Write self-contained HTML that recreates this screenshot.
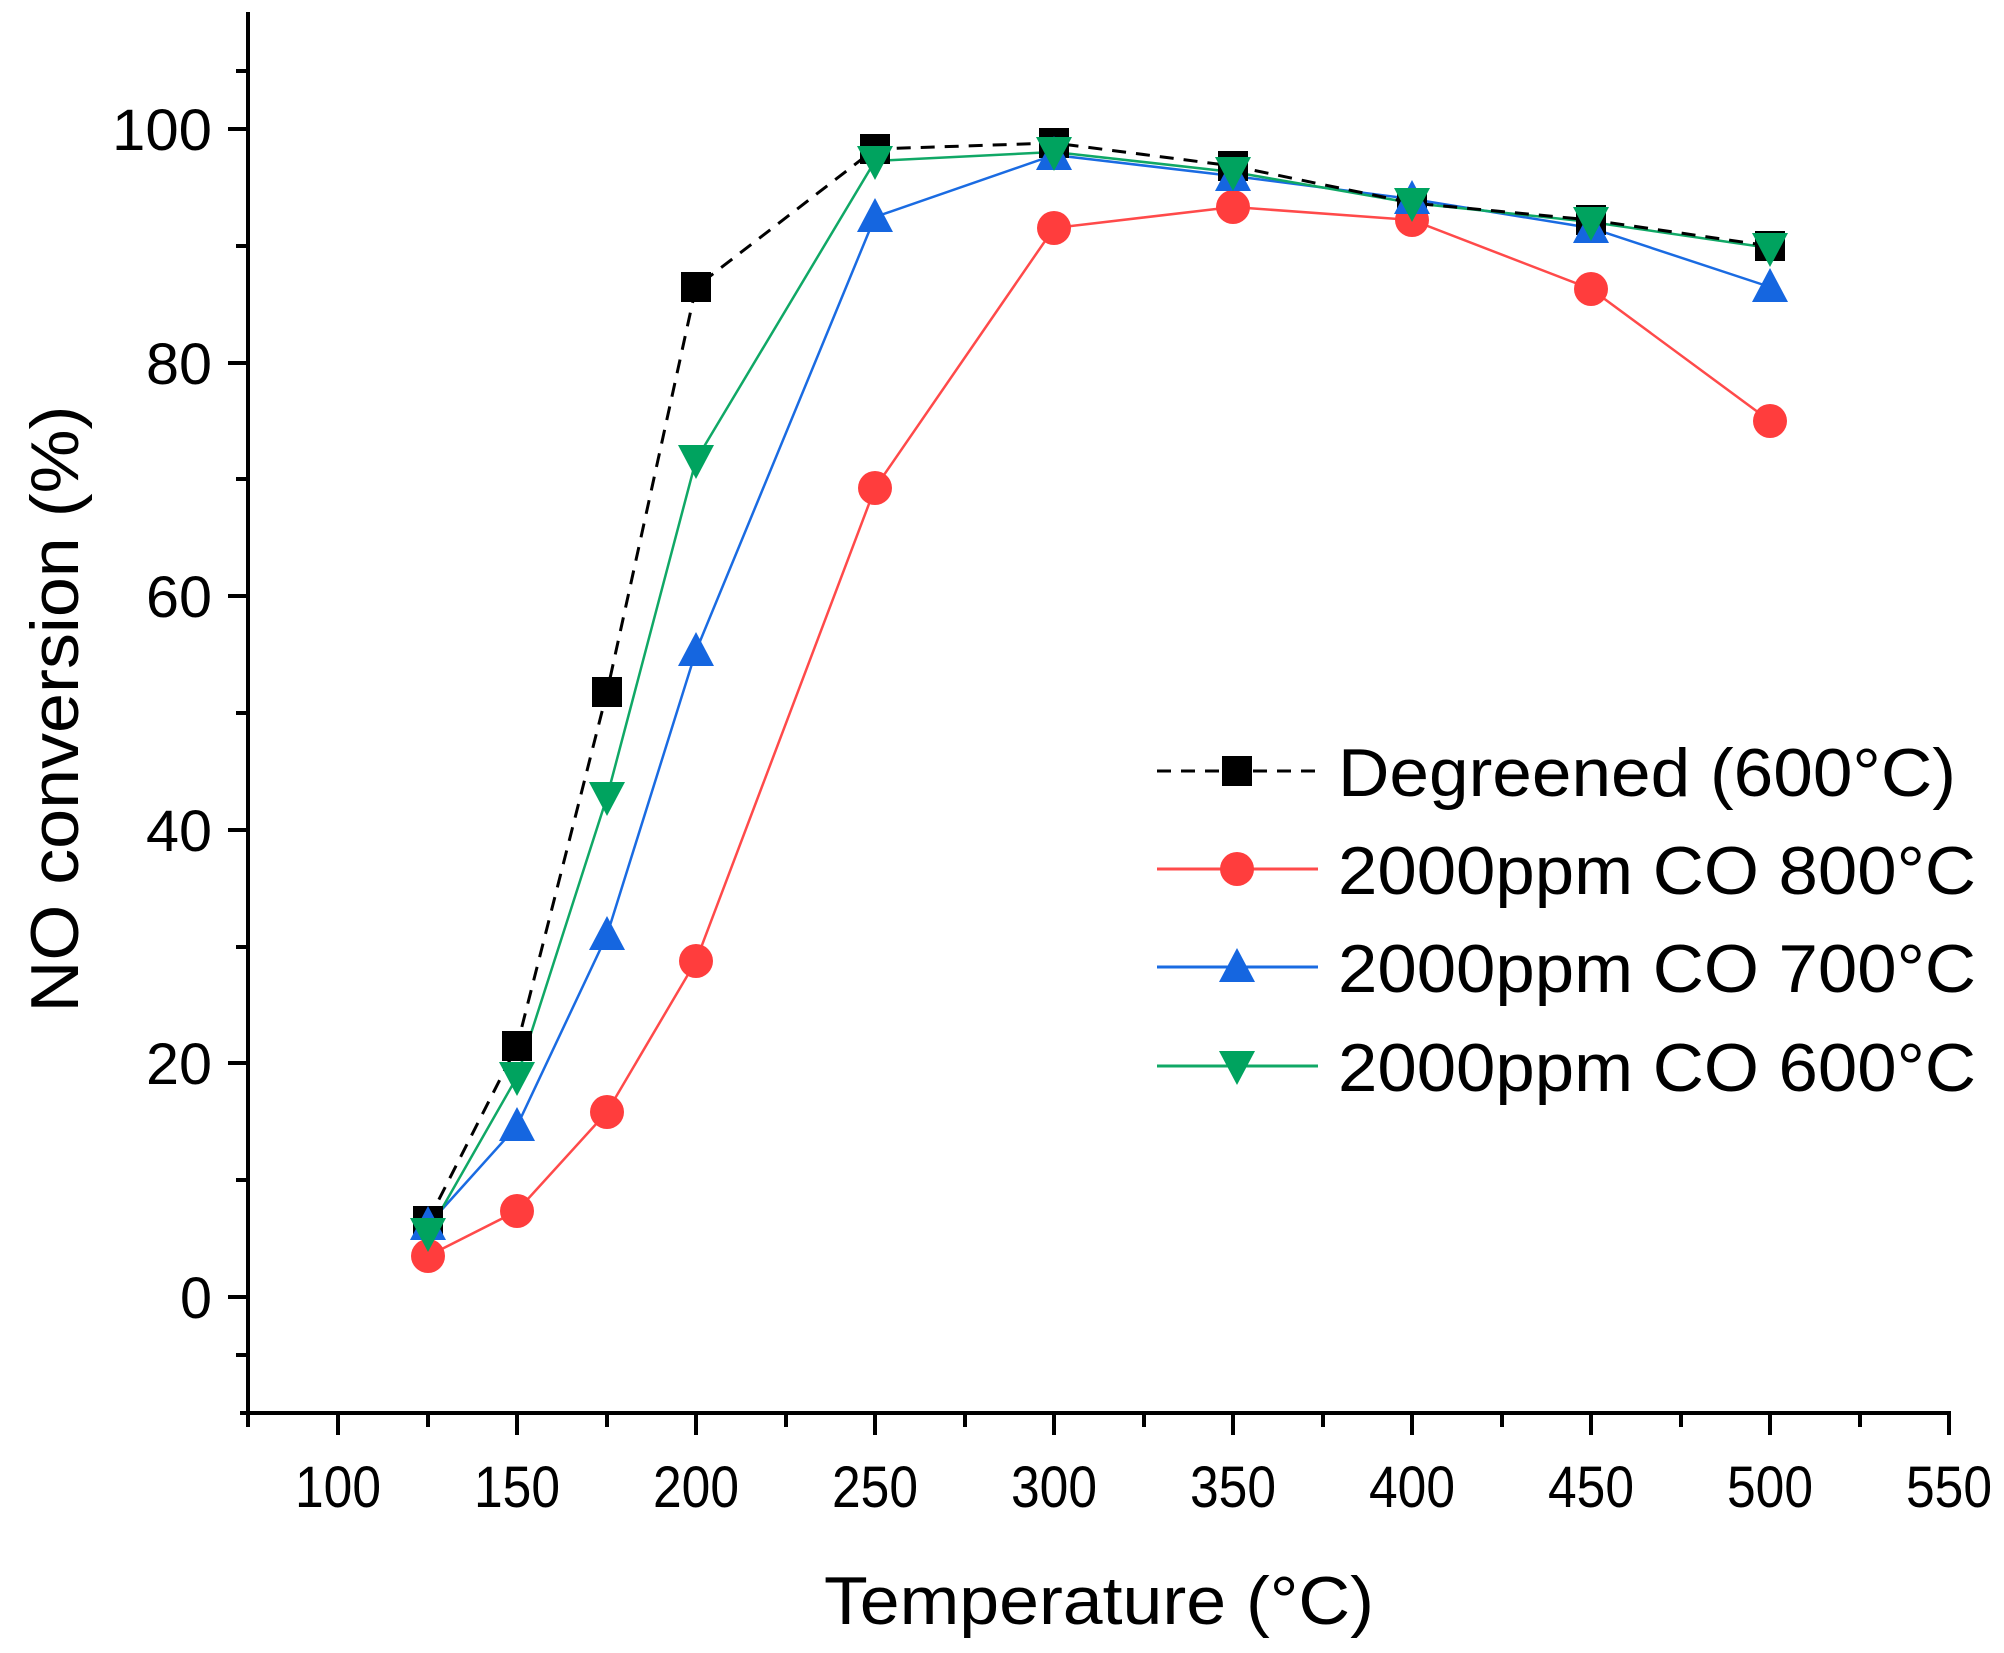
<!DOCTYPE html>
<html><head><meta charset="utf-8"><style>html,body{margin:0;padding:0;background:#fff}svg{display:block}</style></head>
<body>
<svg width="2004" height="1653" viewBox="0 0 2004 1653" xmlns="http://www.w3.org/2000/svg" font-family="Liberation Sans, Arial, sans-serif">
<defs>
<g id="sq"><rect x="-15" y="-15" width="30" height="30" fill="#000"/></g>
<g id="ci"><circle r="17" fill="#ff3d3d"/></g>
<g id="tu"><polygon points="0,-19 18,15 -18,15" fill="#1566e0"/></g>
<g id="td"><polygon points="0,19 18,-15 -18,-15" fill="#00a35f"/></g>
</defs>
<g stroke="#000" stroke-width="4" fill="none">
<line x1="248" y1="12" x2="248" y2="1415"/>
<line x1="240" y1="1413" x2="1951" y2="1413"/>
</g>
<g stroke="#000" stroke-width="4">
<line x1="228" y1="1297" x2="248" y2="1297"/><line x1="236" y1="1180" x2="248" y2="1180"/>
<line x1="228" y1="1063" x2="248" y2="1063"/><line x1="236" y1="947" x2="248" y2="947"/>
<line x1="228" y1="830" x2="248" y2="830"/><line x1="236" y1="713" x2="248" y2="713"/>
<line x1="228" y1="596" x2="248" y2="596"/><line x1="236" y1="479" x2="248" y2="479"/>
<line x1="228" y1="363" x2="248" y2="363"/><line x1="236" y1="246" x2="248" y2="246"/>
<line x1="228" y1="129" x2="248" y2="129"/><line x1="236" y1="1355" x2="248" y2="1355"/>
<line x1="236" y1="71" x2="248" y2="71"/>
</g>
<g stroke="#000" stroke-width="4">
<line x1="248" y1="1413" x2="248" y2="1427"/>
<line x1="338" y1="1413" x2="338" y2="1435"/><line x1="428" y1="1413" x2="428" y2="1427"/>
<line x1="517" y1="1413" x2="517" y2="1435"/><line x1="607" y1="1413" x2="607" y2="1427"/>
<line x1="696" y1="1413" x2="696" y2="1435"/><line x1="786" y1="1413" x2="786" y2="1427"/>
<line x1="875" y1="1413" x2="875" y2="1435"/><line x1="965" y1="1413" x2="965" y2="1427"/>
<line x1="1054" y1="1413" x2="1054" y2="1435"/><line x1="1144" y1="1413" x2="1144" y2="1427"/>
<line x1="1233" y1="1413" x2="1233" y2="1435"/><line x1="1323" y1="1413" x2="1323" y2="1427"/>
<line x1="1412" y1="1413" x2="1412" y2="1435"/><line x1="1502" y1="1413" x2="1502" y2="1427"/>
<line x1="1591" y1="1413" x2="1591" y2="1435"/><line x1="1681" y1="1413" x2="1681" y2="1427"/>
<line x1="1770" y1="1413" x2="1770" y2="1435"/><line x1="1860" y1="1413" x2="1860" y2="1427"/>
<line x1="1949" y1="1413" x2="1949" y2="1435"/>
</g>
<g font-size="58" text-anchor="end" fill="#000" lengthAdjust="spacingAndGlyphs">
<text x="212" y="1318" textLength="32" lengthAdjust="spacingAndGlyphs">0</text>
<text x="212" y="1084" textLength="66" lengthAdjust="spacingAndGlyphs">20</text>
<text x="212" y="851" textLength="66" lengthAdjust="spacingAndGlyphs">40</text>
<text x="212" y="617" textLength="66" lengthAdjust="spacingAndGlyphs">60</text>
<text x="212" y="384" textLength="66" lengthAdjust="spacingAndGlyphs">80</text>
<text x="212" y="150" textLength="100" lengthAdjust="spacingAndGlyphs">100</text>
</g>
<g font-size="58" text-anchor="middle" fill="#000">
<text x="338" y="1507" textLength="86" lengthAdjust="spacingAndGlyphs">100</text>
<text x="517" y="1507" textLength="86" lengthAdjust="spacingAndGlyphs">150</text>
<text x="696" y="1507" textLength="86" lengthAdjust="spacingAndGlyphs">200</text>
<text x="875" y="1507" textLength="86" lengthAdjust="spacingAndGlyphs">250</text>
<text x="1054" y="1507" textLength="86" lengthAdjust="spacingAndGlyphs">300</text>
<text x="1233" y="1507" textLength="86" lengthAdjust="spacingAndGlyphs">350</text>
<text x="1412" y="1507" textLength="86" lengthAdjust="spacingAndGlyphs">400</text>
<text x="1591" y="1507" textLength="86" lengthAdjust="spacingAndGlyphs">450</text>
<text x="1770" y="1507" textLength="86" lengthAdjust="spacingAndGlyphs">500</text>
<text x="1949" y="1507" textLength="86" lengthAdjust="spacingAndGlyphs">550</text>
</g>
<text x="1099" y="1624" font-size="68" text-anchor="middle" textLength="550" lengthAdjust="spacingAndGlyphs">Temperature (°C)</text>
<text transform="translate(78,709) rotate(-90)" font-size="68" text-anchor="middle" textLength="607" lengthAdjust="spacingAndGlyphs">NO conversion (%)</text>
<polyline fill="none" stroke="#ff4a4a" stroke-width="2.5" points="428,1256 517,1211 607,1112 696,961 875,488 1054,228 1233,207 1412,220 1591,289 1770,421"/>
<polyline fill="none" stroke="#1a6be2" stroke-width="2.5" points="428,1225 517,1126 607,935 696,651 875,217 1054,155 1233,176 1412,199 1591,228 1770,287"/>
<polyline fill="none" stroke="#10a866" stroke-width="2.5" points="428,1233 517,1077 607,797 696,460 875,161 1054,152 1233,172 1412,203 1591,222 1770,248"/>
<polyline fill="none" stroke="#000" stroke-width="3" stroke-dasharray="14,10" points="428,1221 517,1046 607,692 696,287 875,149 1054,143 1233,166 1412,203 1591,220 1770,246"/>
<g>
<use href="#sq" x="428" y="1221"/><use href="#sq" x="517" y="1046"/><use href="#sq" x="607" y="692"/><use href="#sq" x="696" y="287"/><use href="#sq" x="875" y="149"/><use href="#sq" x="1054" y="143"/><use href="#sq" x="1233" y="166"/><use href="#sq" x="1412" y="203"/><use href="#sq" x="1591" y="220"/><use href="#sq" x="1770" y="246"/>
<use href="#ci" x="428" y="1256"/><use href="#ci" x="517" y="1211"/><use href="#ci" x="607" y="1112"/><use href="#ci" x="696" y="961"/><use href="#ci" x="875" y="488"/><use href="#ci" x="1054" y="228"/><use href="#ci" x="1233" y="207"/><use href="#ci" x="1412" y="220"/><use href="#ci" x="1591" y="289"/><use href="#ci" x="1770" y="421"/>
<use href="#tu" x="428" y="1225"/><use href="#tu" x="517" y="1126"/><use href="#tu" x="607" y="935"/><use href="#tu" x="696" y="651"/><use href="#tu" x="875" y="217"/><use href="#tu" x="1054" y="155"/><use href="#tu" x="1233" y="176"/><use href="#tu" x="1412" y="199"/><use href="#tu" x="1591" y="228"/><use href="#tu" x="1770" y="287"/>
<use href="#td" x="428" y="1233"/><use href="#td" x="517" y="1077"/><use href="#td" x="607" y="797"/><use href="#td" x="696" y="460"/><use href="#td" x="875" y="161"/><use href="#td" x="1054" y="152"/><use href="#td" x="1233" y="172"/><use href="#td" x="1412" y="203"/><use href="#td" x="1591" y="222"/><use href="#td" x="1770" y="248"/>
</g>
<line x1="1157" y1="771" x2="1318" y2="771" stroke="#000" stroke-width="3" stroke-dasharray="14,10"/>
<use href="#sq" x="1237" y="771"/>
<line x1="1157" y1="869" x2="1318" y2="869" stroke="#ff4a4a" stroke-width="3"/>
<use href="#ci" x="1237" y="869"/>
<line x1="1157" y1="967" x2="1318" y2="967" stroke="#1a6be2" stroke-width="3"/>
<use href="#tu" x="1237" y="967"/>
<line x1="1157" y1="1066" x2="1318" y2="1066" stroke="#10a866" stroke-width="3"/>
<use href="#td" x="1237" y="1066"/>
<g font-size="68" fill="#000">
<text x="1338" y="796" textLength="618" lengthAdjust="spacingAndGlyphs">Degreened (600°C)</text>
<text x="1338" y="894" textLength="638" lengthAdjust="spacingAndGlyphs">2000ppm CO 800°C</text>
<text x="1338" y="992" textLength="638" lengthAdjust="spacingAndGlyphs">2000ppm CO 700°C</text>
<text x="1338" y="1091" textLength="638" lengthAdjust="spacingAndGlyphs">2000ppm CO 600°C</text>
</g>
</svg>
</body></html>
